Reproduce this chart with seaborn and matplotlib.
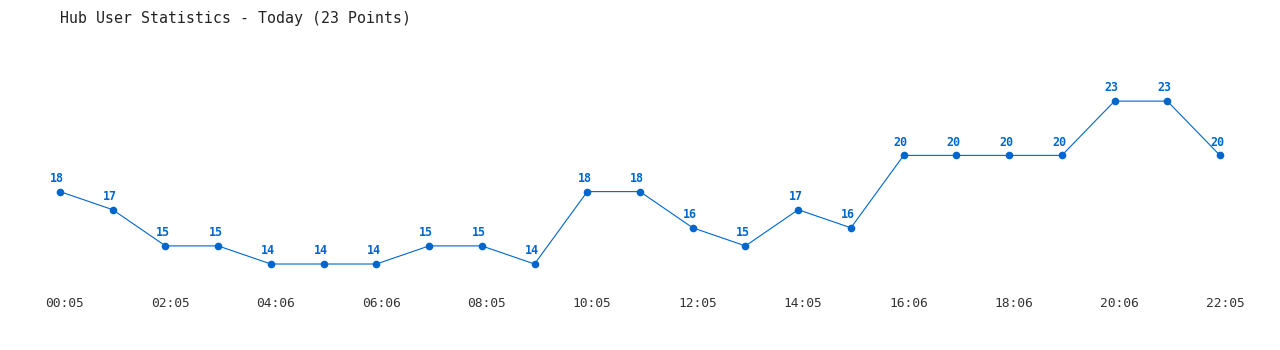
import matplotlib
matplotlib.use("Agg")
import matplotlib.pyplot as plt
import matplotlib.transforms as mtransforms
import seaborn as sns
import pandas as pd

times = ["00:05", "01:05", "02:05", "03:05", "04:06", "05:06", "06:06", "07:06",
         "08:05", "09:05", "10:05", "11:05", "12:05", "13:05", "14:05", "15:05",
         "16:06", "17:06", "18:06", "19:06", "20:06", "21:06", "22:05"]
users = [18, 17, 15, 15, 14, 14, 14, 15, 15, 14, 18, 18, 16, 15, 17, 16,
         20, 20, 20, 20, 23, 23, 20]
title = "Hub User Statistics - Today (23 Points)"

sns.set_theme(style="white")
plt.rcParams['font.family'] = ['DejaVu Sans Mono', 'DejaVu Sans']

df = pd.DataFrame({"idx": range(len(users)), "time": times, "users": users})
color = "#0066cc"

fig = plt.figure(figsize=(12.8, 3.5), dpi=100)
ax = fig.add_axes([60/1280, 60/350, 1160/1280, 210/350])
sns.lineplot(data=df, x="idx", y="users", ax=ax, color=color, linewidth=0.8,
             marker="o", markersize=5.5, markeredgewidth=0, clip_on=False)
for i, v in zip(df["idx"], df["users"]):
    ax.annotate(str(v), (i, v), xytext=(-2, 9.5), textcoords="offset points",
                ha="center", va="center", fontsize=8.4, fontweight="bold",
                color=color)

ax.set_xlim(0, 22)
ax.set_ylim(12.564, 24.166)
ax.set_xticks(df["idx"][::2])
ax.set_xticklabels(times[::2], fontsize=9.3, color="#333333")
ax.tick_params(axis="x", length=0, pad=5)
offset = mtransforms.ScaledTranslation(5/100, 0, fig.dpi_scale_trans)
for lbl in ax.get_xticklabels():
    lbl.set_transform(lbl.get_transform() + offset)
ax.set_yticks([])
ax.set_xlabel("")
ax.set_ylabel("")
for s in ax.spines.values():
    s.set_visible(False)

fig.text(60/1280, 1 - 18/350, title, fontsize=10.7, color="#222222",
         ha="left", va="center")

fig.savefig("out.png", dpi=100, facecolor="white")
